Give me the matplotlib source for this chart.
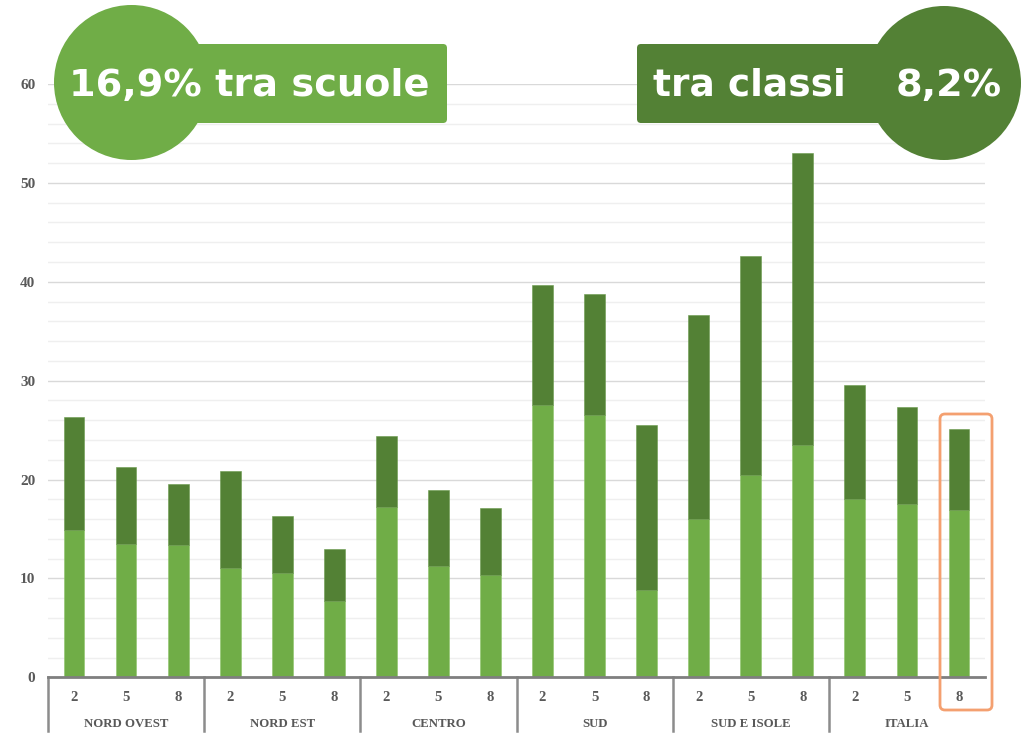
import matplotlib.pyplot as plt
import matplotlib.transforms as mtransforms
from matplotlib.patches import Circle, FancyBboxPatch
import numpy as np

# Data
regions = ['NORD OVEST', 'NORD EST', 'CENTRO', 'SUD', 'SUD E ISOLE', 'ITALIA']
grades = ['2', '5', '8']
tra_scuole = [14.9, 13.5, 13.4,
              11.1, 10.5, 7.7,
              17.2, 11.3, 10.3,
              27.5, 26.5, 8.8,
              16.0, 20.5, 23.5,
              18.0, 17.5, 16.9]
totale = [26.3, 21.3, 19.5,
          20.9, 16.3, 13.0,
          24.4, 18.9, 17.1,
          39.7, 38.8, 25.5,
          36.6, 42.6, 53.0,
          29.6, 27.3, 25.1]
tra_classi = [t - s for t, s in zip(totale, tra_scuole)]

light = '#70AD47'
dark = '#538135'
grey = '#595959'

fig = plt.figure(figsize=(10.34, 7.39), dpi=100)
ax = fig.add_axes([48 / 1034, (739 - 677.3) / 739, 937 / 1034, (677.3 - 84) / 739])

x = np.arange(len(totale))
ax.bar(x, tra_scuole, width=0.4, color=light, edgecolor='#8cc46a', linewidth=0.4, zorder=3)
ax.bar(x, tra_classi, width=0.4, bottom=tra_scuole, color=dark, edgecolor='#6a9a4c', linewidth=0.4, zorder=3)

ax.set_xlim(-0.5, len(totale) - 0.5)
ax.set_ylim(0, 60)

# gridlines
for v in range(2, 61, 2):
    ax.axhline(v, color='#d9d9d9' if v % 10 == 0 else '#efefef', lw=1.0, zorder=0)

for s in ['top', 'right', 'left']:
    ax.spines[s].set_visible(False)
ax.spines['bottom'].set_color('#7f7f7f')
ax.spines['bottom'].set_linewidth(2)
ax.spines['bottom'].set_zorder(4)

serif = ['Liberation Serif', 'DejaVu Serif']
ax.set_yticks(range(0, 61, 10))
ax.set_yticklabels([str(v) for v in range(0, 61, 10)], fontfamily=serif,
                   fontweight='bold', fontsize=11, color=grey)
ax.tick_params(axis='y', length=0, pad=9)
ax.set_xticks(x)
ax.set_xticklabels(grades * len(regions), fontfamily=serif, fontweight='bold',
                   fontsize=10.5, color=grey)
ax.tick_params(axis='x', length=0, pad=10)

# group separators and names
trans = mtransforms.blended_transform_factory(ax.transData, ax.transAxes)
for i in range(len(regions)):
    ax.plot([i * 3 - 0.5, i * 3 - 0.5], [0, -0.09], transform=trans, color='#8c8c8c',
            lw=1.8, clip_on=False)
    ax.text(i * 3 + 1, -0.078, regions[i], transform=trans, ha='center', va='center',
            fontfamily=serif, fontweight='bold', fontsize=9.2, color=grey)

# overlay in pixel coordinates for the badges
ov = fig.add_axes([0, 0, 1, 1], facecolor='none')
ov.set_xlim(0, 1034)
ov.set_ylim(739, 0)
ov.axis('off')

ov.add_patch(FancyBboxPatch((131, 44), 316, 79, boxstyle='round,pad=0,rounding_size=4',
                            fc=light, ec='none'))
ov.add_patch(Circle((131.5, 82.5), 77.5, fc=light, ec='none'))
ov.text(249, 86, '16,9% tra scuole', color='white', fontweight='bold', fontsize=27.5,
        ha='center', va='center', fontfamily='DejaVu Sans')

ov.add_patch(FancyBboxPatch((637, 44), 307, 79, boxstyle='round,pad=0,rounding_size=4',
                            fc=dark, ec='none'))
ov.add_patch(Circle((944, 83), 77, fc=dark, ec='none'))
ov.text(749, 86, 'tra classi', color='white', fontweight='bold', fontsize=27,
        ha='center', va='center', fontfamily='DejaVu Sans')
ov.text(949, 86, '8,2%', color='white', fontweight='bold', fontsize=27.5,
        ha='center', va='center', fontfamily='DejaVu Sans')

# highlight box around ITALIA 8
ov.add_patch(FancyBboxPatch((940, 414), 52, 296, boxstyle='round,pad=0,rounding_size=5',
                            fc='none', ec='#F4A070', lw=2))

fig.savefig('out.png', dpi=100)
